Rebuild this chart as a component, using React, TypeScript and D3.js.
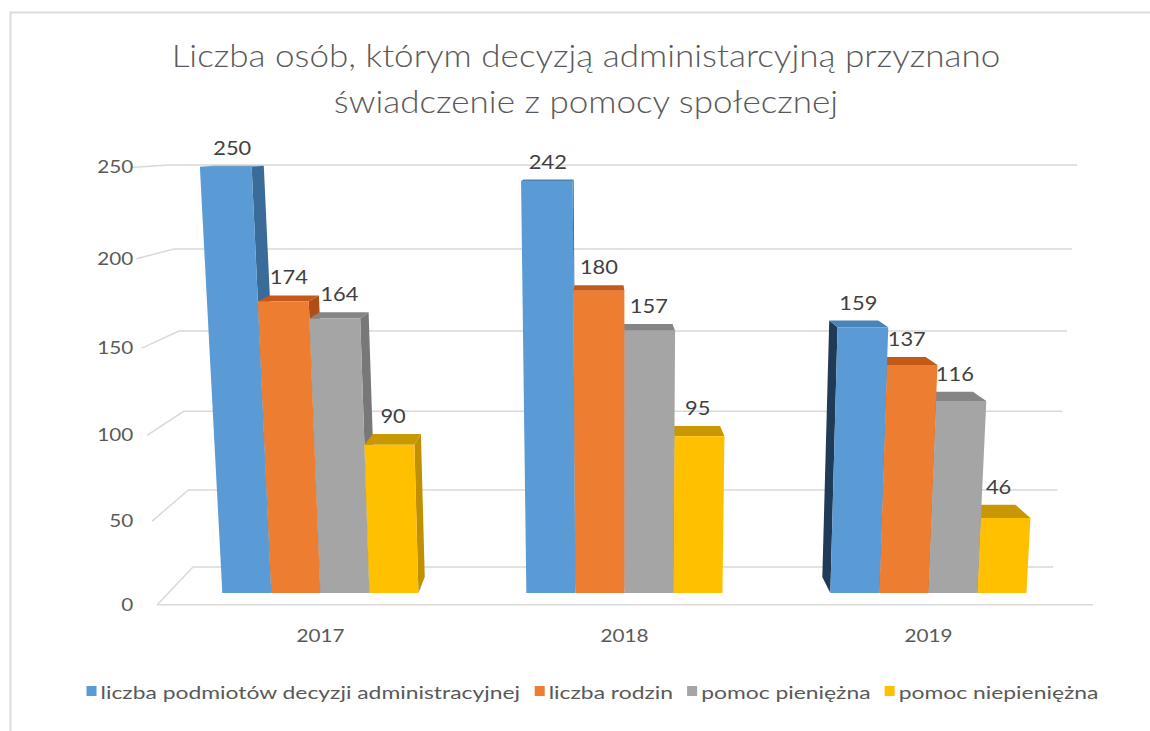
import React, { useEffect, useRef } from 'react'
import * as d3 from 'd3'

const years = ['2017', '2018', '2019']
const seriesNames = [
  'liczba podmiotów decyzji administracyjnej',
  'liczba rodzin',
  'pomoc pieniężna',
  'pomoc niepieniężna',
]
const podmioty = [250, 242, 159]
const rodziny = [174, 180, 137]
const pomocPieniezna = [164, 157, 116]
const pomocNiepieniezna = [90, 95, 46]
const yTicks = [0, 50, 100, 150, 200, 250]
const titleLines = [
  'Liczba osób, którym decyzją administarcyjną przyznano',
  'świadczenie z pomocy społecznej',
]

const series = [podmioty, rodziny, pomocPieniezna, pomocNiepieniezna]

// front / top / lit side / shadowed side
const shades = [
  { front: '#5b9bd5', top: '#4a83b8', right: '#3b6c99', left: '#1f3b58' },
  { front: '#ed7d31', top: '#c4591a', right: '#b04f15', left: '#7d370c' },
  { front: '#a5a5a5', top: '#858585', right: '#787878', left: '#4f4f4f' },
  { front: '#ffc000', top: '#c99800', right: '#c09000', left: '#806000' },
]

const width = 1150
const height = 731
const wallLeft = 193
const wallRight = 1053
const wallBottom = 567
const wallTop = 165
const vp = { x: 600, y: 137 } // where the depth lines meet
const depthGain = 0.088
const taperCenter = 623
const taper = 0.000139 // verticals lean in towards the bottom
const foreshorten = 0.0523
const barFront = 0.6875
const barBack = 0.267
const font = 'Lato, "Open Sans", sans-serif'

export default function App() {
  const svgRef = useRef(null)

  useEffect(() => {
    document.body.style.margin = '0'
    const svg = d3.select(svgRef.current)
    svg.selectAll('*').remove()

    const ctx = document.createElement('canvas').getContext('2d')
    const measure = (text, f) => {
      ctx.font = f
      return ctx.measureText(text).width
    }

    const yScale = d3.scaleLinear().domain([0, 250]).range([0, 1])
    const yWall = (v) => {
      const t = yScale(v)
      return (
        wallBottom -
        ((wallBottom - wallTop) * t * (1 - foreshorten)) / (1 - foreshorten * t)
      )
    }
    // u: x on the back wall floor line, v: value, d: 0 back wall .. 1 front edge
    const project = (u, v, d) => {
      const yb = yWall(v)
      const xb = taperCenter + (u - taperCenter) * (1 + taper * (wallBottom - yb))
      const r = 1 + depthGain * d
      return [vp.x + (xb - vp.x) * r, vp.y + (yb - vp.y) * r]
    }
    const line = d3.line()
    const poly = (pts) => line(pts) + 'Z'

    const xBand = d3
      .scaleBand()
      .domain(years)
      .range([wallLeft, wallRight])
      .paddingInner(0.355)
      .paddingOuter(0.1775)
    const xSeries = d3
      .scaleBand()
      .domain(d3.range(series.length))
      .range([0, xBand.bandwidth()])

    // frame
    svg
      .append('path')
      .attr('d', `M10.5,${height}V12.5H${width}`)
      .attr('fill', 'none')
      .attr('stroke', '#dcdcdc')
      .attr('stroke-width', 2)

    // title
    const titleFont = `300 32px ${font}`
    const titleSx = 829 / measure(titleLines[0], titleFont)
    titleLines.forEach((t, i) => {
      svg
        .append('text')
        .attr('transform', `translate(586,${67 + i * 46}) scale(${titleSx},1)`)
        .attr('text-anchor', 'middle')
        .attr('font-family', font)
        .attr('font-weight', 300)
        .attr('font-size', 32)
        .attr('fill', '#595959')
        .text(t)
    })

    // grid: left wall, back wall, floor
    const grid = svg.append('g').attr('fill', 'none').attr('stroke', '#d9d9d9').attr('stroke-width', 1.5)
    yTicks.forEach((v) => {
      grid
        .append('path')
        .attr('d', line([project(wallLeft, v, 1), project(wallLeft, v, 0), project(wallRight, v, 0)]))
    })
    grid.append('path').attr('d', line([project(wallLeft, 0, 1), project(wallRight, 0, 1)]))

    // y tick labels
    const tickX = project(wallLeft, 0, 1)[0] - 24
    yTicks.forEach((v) => {
      svg
        .append('text')
        .attr('transform', `translate(${tickX},${project(wallLeft, v, 1)[1] + 6}) scale(1.15,1)`)
        .attr('text-anchor', 'end')
        .attr('font-family', font)
        .attr('font-size', 18)
        .attr('fill', '#595959')
        .text(v)
    })

    // bars
    const bars = []
    years.forEach((year, i) => {
      series.forEach((vals, j) => {
        const u0 = xBand(year) + xSeries(j)
        const u1 = u0 + xSeries.bandwidth()
        const v = vals[i]
        const cx = project((u0 + u1) / 2, 0, barFront)[0]
        bars.push({ u0, u1, v, j, cx })
      })
    })
    bars.sort((a, b) => Math.abs(b.cx - vp.x) - Math.abs(a.cx - vp.x))

    const barG = svg.append('g')
    bars.forEach(({ u0, u1, v, j }) => {
      const c = shades[j]
      const fbl = project(u0, 0, barFront)
      const fbr = project(u1, 0, barFront)
      const ftl = project(u0, v, barFront)
      const ftr = project(u1, v, barFront)
      const bbl = project(u0, 0, barBack)
      const bbr = project(u1, 0, barBack)
      const btl = project(u0, v, barBack)
      const btr = project(u1, v, barBack)
      if (btr[0] > ftr[0] + 0.3) {
        barG.append('path').attr('d', poly([fbr, bbr, btr, ftr])).attr('fill', c.right)
      }
      if (btl[0] < ftl[0] - 0.3) {
        barG.append('path').attr('d', poly([fbl, bbl, btl, ftl])).attr('fill', c.left)
      }
      barG.append('path').attr('d', poly([ftl, ftr, btr, btl])).attr('fill', c.top)
      barG.append('path').attr('d', poly([fbl, fbr, ftr, ftl])).attr('fill', c.front)
    })

    // value labels
    bars.forEach(({ u0, u1, v }) => {
      const [x, y] = project((u0 + u1) / 2, v, (barFront + barBack) / 2)
      const yb = project((u0 + u1) / 2, v, barBack)[1]
      svg
        .append('text')
        .attr('transform', `translate(${x},${yb - 11}) scale(1.15,1)`)
        .attr('text-anchor', 'middle')
        .attr('font-family', font)
        .attr('font-size', 19)
        .attr('fill', '#404040')
        .text(v)
    })

    // category labels
    years.forEach((year) => {
      const uc = xBand(year) + xBand.bandwidth() / 2
      svg
        .append('text')
        .attr('transform', `translate(${project(uc, 0, barFront)[0]},${project(uc, 0, 1)[1] + 37}) scale(1.15,1)`)
        .attr('text-anchor', 'middle')
        .attr('font-family', font)
        .attr('font-size', 18)
        .attr('fill', '#595959')
        .text(year)
    })

    // legend
    const legendFont = `400 17px ${font}`
    const textW = seriesNames.map((n) => measure(n, legendFont))
    const legendSx = 914 / d3.sum(textW)
    const sq = 10
    const sqGap = 4
    const itemGap = 14
    const total =
      d3.sum(textW) * legendSx + seriesNames.length * (sq + sqGap) + (seriesNames.length - 1) * itemGap
    let lx = 592.5 - total / 2
    const ly = 699
    seriesNames.forEach((name, j) => {
      svg
        .append('rect')
        .attr('x', lx)
        .attr('y', ly - 13)
        .attr('width', sq)
        .attr('height', sq)
        .attr('fill', shades[j].front)
      svg
        .append('text')
        .attr('transform', `translate(${lx + sq + sqGap},${ly}) scale(${legendSx},1)`)
        .attr('font-family', font)
        .attr('font-size', 17)
        .attr('fill', '#595959')
        .text(name)
      lx += sq + sqGap + textW[j] * legendSx + itemGap
    })
  }, [])

  return <svg ref={svgRef} width={width} height={height} style={{ display: 'block', background: '#fff' }}></svg>
}
